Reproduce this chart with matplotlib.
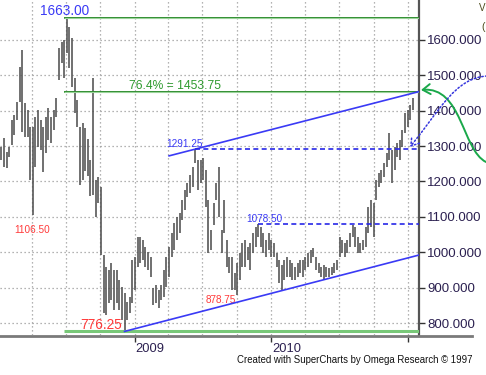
import numpy as np
import pandas as pd
import matplotlib
matplotlib.use("Agg")
import matplotlib.pyplot as plt
import matplotlib.dates as mdates
import matplotlib.transforms as mtransforms
from matplotlib.path import Path
from matplotlib.patches import FancyArrowPatch
from matplotlib.lines import Line2D

plt.rcParams["font.family"] = ["Liberation Sans", "DejaVu Sans"]

# weekly bars (cents/bu), Jan 2008 - Jan 2011
first_week = "2008-01-11"
highs = [1297, 1323, 1283, 1297, 1373, 1388, 1424, 1523, 1571, 1421,
         1402, 1354, 1354, 1382, 1402, 1373, 1354, 1382, 1407, 1382,
         1402, 1436, 1577, 1594, 1600, 1663, 1636, 1605, 1492, 1430,
         1354, 1365, 1350, 1320, 1260, 1492, 1204, 1212, 1184, 992,
         958, 950, 970, 950, 950, 921, 902, 885, 859, 873,
         978, 986, 1043, 1043, 1034, 1015, 1000, 986, 899, 907,
         893, 907, 950, 986, 1015, 1054, 1082, 1099, 1111, 1147,
         1176, 1195, 1218, 1241, 1291.25, 1260, 1260, 1266, 1232, 1147,
         1063, 1139, 1195, 1241, 1063, 1147, 1034, 986, 986, 941,
         970, 998, 1026, 1034, 1015, 1026, 1054, 1071, 1078.5, 1071,
         1054, 1034, 1054, 1034, 1026, 998, 978, 964, 978, 986,
         978, 970, 958, 970, 978, 978, 986, 998, 1006, 1012,
         986, 970, 958, 964, 958, 955, 958, 970, 978, 1043,
         1034, 1026, 1034, 1054, 1076, 1071, 1043, 1026, 1034, 1071,
         1128, 1147, 1139, 1204, 1224, 1232, 1252, 1280, 1337, 1289,
         1297, 1308, 1317, 1345, 1393, 1402, 1416, 1436]
lows = [1260, 1241, 1238, 1269, 1303, 1331, 1373, 1424, 1340, 1325,
        1325, 1204, 1106.5, 1241, 1297, 1289, 1226, 1280, 1317, 1308,
        1345, 1382, 1486, 1535, 1492, 1563, 1520, 1467, 1393, 1354,
        1190, 1204, 1230, 1215, 1160, 1162, 1100, 1139, 992, 828,
        823, 856, 865, 837, 856, 837, 808, 776.25, 808, 828,
        856, 893, 958, 970, 978, 958, 950, 930, 851, 856,
        842, 865, 873, 902, 930, 986, 1006, 1034, 1054, 1091,
        1119, 1156, 1167, 1184, 1252, 1176, 1195, 1204, 1128, 998,
        1006, 1077, 1147, 1099, 998, 1054, 958, 941, 893, 893,
        878.75, 921, 958, 958, 978, 950, 998, 1015, 1043, 1015,
        998, 986, 1006, 986, 986, 958, 913, 893, 921, 930,
        930, 921, 921, 930, 941, 930, 950, 958, 970, 986,
        950, 941, 930, 921, 930, 930, 935, 941, 950, 986,
        998, 986, 998, 1015, 1043, 1015, 998, 998, 1006, 1015,
        1054, 1071, 1043, 1147, 1184, 1195, 1212, 1241, 1260, 1195,
        1232, 1269, 1260, 1297, 1337, 1354, 1373, 1402]

y_ticks = [800, 900, 1000, 1100, 1200, 1300, 1400, 1500, 1600]
year_ticks = ["2009-01-01", "2010-01-01", "2011-01-01"]
year_labels = ["2009", "2010", ""]

high_1663 = 1663.00
retrace = 1453.75
low_776 = 776.25
swing_1291 = 1291.25
swing_1078 = 1078.50
swing_1106 = 1106.50
swing_878 = 878.75
channel_end_low = 992.0

dates = pd.date_range(first_week, periods=len(highs), freq="7D")
x = mdates.date2num(dates)
day_px = 2.67

W, H = 486, 375
fig = plt.figure(figsize=(W / 100, H / 100), dpi=100)
ax = fig.add_axes([0, 40 / H, 419 / W, 335 / H])

x_left = x[0] - 1.3 * day_px
x_right = x_left + 419 * day_px
ax.set_xlim(x_left, x_right)
ax.set_ylim(766.1, 1712.5)

# grid
ax.set_yticks(y_ticks)
ax.set_yticklabels([f"{v:.3f}" for v in y_ticks])
ax.set_xticks(mdates.date2num(pd.to_datetime(year_ticks)))
ax.set_xticklabels(year_labels, ha="left")
ax.xaxis.set_minor_locator(mdates.MonthLocator(bymonth=[1, 4, 7, 10]))
grid_kw = dict(color="#9a9a9a", linestyle=(0, (1, 2.2)), linewidth=0.9)
ax.grid(True, which="major", **grid_kw)
ax.grid(True, which="minor", axis="x", **grid_kw)
ax.set_axisbelow(True)

ax.yaxis.tick_right()
ax.tick_params(axis="y", direction="out", length=4, width=1, color="#333333",
               labelcolor="#2b2050", labelsize=9.5, pad=2)
ax.tick_params(axis="x", which="major", direction="out", length=5, width=1,
               color="#333333", labelcolor="#2b2050", labelsize=9.3, pad=1)
ax.tick_params(axis="x", which="minor", length=0)
offset = mtransforms.ScaledTranslation(1 / 100, 0, fig.dpi_scale_trans)
for lab in ax.xaxis.get_majorticklabels():
    lab.set_transform(lab.get_transform() + offset)

for s in ["top", "left", "bottom"]:
    ax.spines[s].set_visible(False)
ax.spines["right"].set_color("#555555")
ax.spines["right"].set_linewidth(1.6)
ax.patch.set_alpha(0)

# price bars
ax.vlines(x, lows, highs, color="#505050", linewidth=1.15, zorder=3)

# fibonacci lines
x_fib = x[24]
ax.hlines([high_1663, retrace], x_fib, x_right, color="#2e8b2e", linewidth=1.4, zorder=4)
ax.hlines([high_1663 - 2, retrace - 2], x_fib, x_right, color="#9ad39a", linewidth=0.8, zorder=4)
ax.hlines(low_776 + 1, x_fib - 0.5 * day_px, x_right, color="#78c878", linewidth=2.2, zorder=4)

# channel
i_top, i_low = 74, 47
slope = (retrace - swing_1291) / (x_right - x[i_top])
ax.plot([x[64], x_right], [swing_1291 - slope * (x[i_top] - x[64]), retrace],
        color="#3a3af5", linewidth=1.2, zorder=5)
ax.plot([x[i_low], x_right], [low_776, channel_end_low],
        color="#3a3af5", linewidth=1.2, zorder=5)

# dashed swing levels
ax.hlines(swing_1291, x[74], x_right, color="#2828e8", linewidth=1.2,
          linestyles=(0, (3, 2)), zorder=5)
ax.hlines(swing_1078, x[98], x_right, color="#2828e8", linewidth=1.2,
          linestyles=(0, (3, 2)), zorder=5)

# labels
blue, red, green = "#3a3af5", "#ff3a3a", "#2e9a2e"
ax.annotate(f"{high_1663:.2f}", (x[24], high_1663), xytext=(0, 3), textcoords="offset pixels",
            ha="center", va="baseline", color=blue, fontsize=9.8)
ax.annotate(f"76.4% = {retrace:.2f}", (x_left + 129 * day_px, retrace), xytext=(0, 2.5),
            textcoords="offset pixels", ha="left", va="baseline", color=green, fontsize=8.7)
ax.annotate(f"{swing_1106:.2f}", (x[12], swing_1106), xytext=(-1, -18), textcoords="offset pixels",
            ha="center", va="baseline", color=red, fontsize=7.2, zorder=6)
ax.annotate(f"{low_776:.2f}", (x[47], low_776), xytext=(-3, 2), textcoords="offset pixels",
            ha="right", va="baseline", color=red, fontsize=9.8)
ax.annotate(f"{swing_1291:.2f}", (x[74], swing_1291), xytext=(-11, 2), textcoords="offset pixels",
            ha="center", va="baseline", color=blue, fontsize=7.2)
ax.annotate(f"{swing_878:.2f}", (x[90], swing_878), xytext=(-1, -8), textcoords="offset pixels",
            ha="right", va="baseline", color=red, fontsize=7.2)
ax.annotate(f"{swing_1078:.2f}", (x[98], swing_1078), xytext=(6, 2), textcoords="offset pixels",
            ha="center", va="baseline", color=blue, fontsize=7.2)


def px(a, b):
    return (a / W, 1 - b / H)


# bottom axis line runs under the price scale
fig.add_artist(Line2D([0, 472 / W], [1 - 335.5 / H] * 2, color="#7a7a7a", linewidth=2))

# projection curves on the right
green_path = Path([px(486, 162), px(462, 150), px(462, 86), px(421, 90)],
                  [Path.MOVETO, Path.CURVE4, Path.CURVE4, Path.CURVE4])
fig.add_artist(FancyArrowPatch(path=green_path, transform=fig.transFigure,
                               arrowstyle="->,head_length=0.45,head_width=0.3",
                               mutation_scale=12, color="#1aa84a", linewidth=1.4, zorder=6))
blue_path = Path([px(487, 76), px(455, 78), px(440, 110), px(410, 147)],
                 [Path.MOVETO, Path.CURVE4, Path.CURVE4, Path.CURVE4])
fig.add_artist(FancyArrowPatch(path=blue_path, transform=fig.transFigure,
                               arrowstyle="->,head_length=0.45,head_width=0.3",
                               mutation_scale=12, color="#3333dd", linewidth=1.1,
                               linestyle=(0, (1, 1.5)), zorder=6))

# small notes at the right edge
fig.text(485 / W, 1 - 8 / H, "V", ha="right", va="center", fontsize=7, color="#4a4a1a")
fig.text(485 / W, 1 - 27 / H, "(", ha="right", va="center", fontsize=7.5, color="#4a4a1a")

fig.text(472 / W, 1 - 360 / H, "Created with SuperCharts by Omega Research \u00a9 1997",
         ha="right", va="center", fontsize=6.95, color="#111111")

fig.savefig("out.png", dpi=100)
